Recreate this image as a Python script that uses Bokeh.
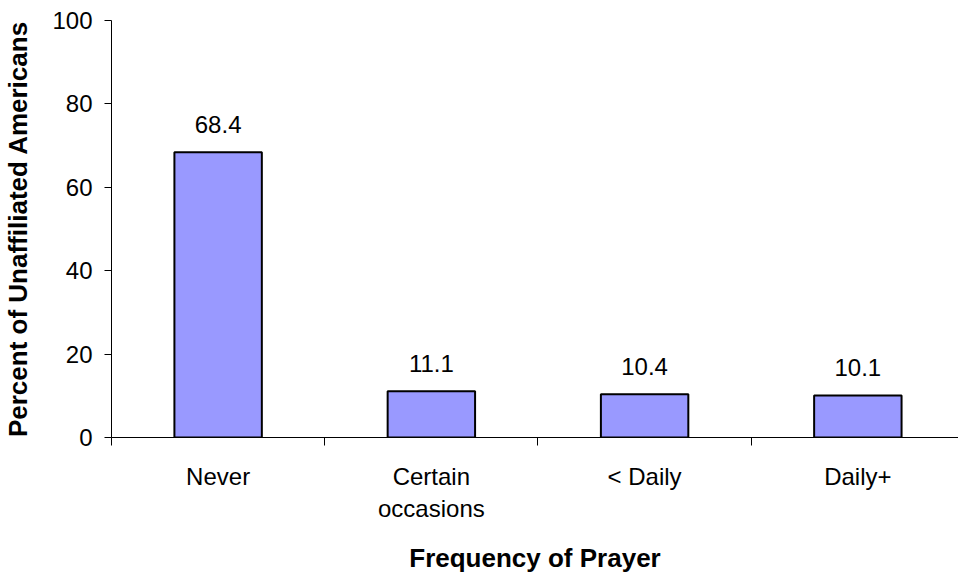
from bokeh.plotting import figure
from bokeh.models import Range1d, FixedTicker, ColumnDataSource, LabelSet
from bokeh.core.properties import value
from bokeh.embed import file_html
from bokeh.resources import INLINE

categories = ["Never", "Certain\noccasions", "< Daily", "Daily+"]
values = [68.4, 11.1, 10.4, 10.1]
value_labels = ["68.4", "11.1", "10.4", "10.1"]
y_ticks = [0, 20, 40, 60, 80, 100]

FONT = "Liberation Sans"

xs = [i + 0.5 for i in range(len(categories))]
src = ColumnDataSource(dict(x=xs, top=values, lab=value_labels))

p = figure(width=958, height=575, output_backend="svg", toolbar_location=None,
           x_range=Range1d(0, 3.972), y_range=Range1d(0, 100),
           min_border_left=110, min_border_right=0, min_border_top=20, min_border_bottom=138)
p.outline_line_color = None
p.xgrid.visible = False
p.ygrid.visible = False
p.background_fill_color = "white"
p.border_fill_color = "white"

p.vbar(x="x", top="top", width=0.41, bottom=0, source=src,
       fill_color="#9999FF", line_color="black", line_width=2)

labels = LabelSet(x="x", y="top", text="lab", source=src, y_offset=28,
                  text_align="center", text_baseline="middle",
                  text_font=value(FONT), text_font_size="24px", text_color="black")
p.add_layout(labels)

# x axis
xa = p.xaxis[0]
xa.ticker = FixedTicker(ticks=xs, minor_ticks=list(range(len(categories) + 1)))
xa.major_label_overrides = {x: c for x, c in zip(xs, categories)}
xa.major_tick_in = 0
xa.major_tick_out = 0
xa.minor_tick_in = 0
xa.minor_tick_out = 8
xa.minor_tick_line_color = "black"
xa.axis_line_color = "black"
xa.major_label_text_font = FONT
xa.major_label_text_font_size = "24px"
xa.major_label_text_color = "black"
xa.major_label_standoff = 17
xa.axis_label = "Frequency of Prayer"
xa.axis_label_text_font = FONT
xa.axis_label_text_font_style = "bold"
xa.axis_label_text_font_size = "26px"
xa.axis_label_text_color = "black"
xa.axis_label_standoff = 18

# y axis
ya = p.yaxis[0]
ya.ticker = FixedTicker(ticks=y_ticks, minor_ticks=[])
ya.major_tick_in = 0
ya.major_tick_out = 7
ya.major_tick_line_color = "black"
ya.axis_line_color = "black"
ya.major_label_text_font = FONT
ya.major_label_text_font_size = "24px"
ya.major_label_text_color = "black"
ya.major_label_standoff = 12
ya.axis_label = "Percent of Unaffiliated Americans"
ya.axis_label_text_font = FONT
ya.axis_label_text_font_style = "bold"
ya.axis_label_text_font_size = "26px"
ya.axis_label_text_color = "black"
ya.axis_label_standoff = 16

open("out.html", "w").write(file_html(p, INLINE))
